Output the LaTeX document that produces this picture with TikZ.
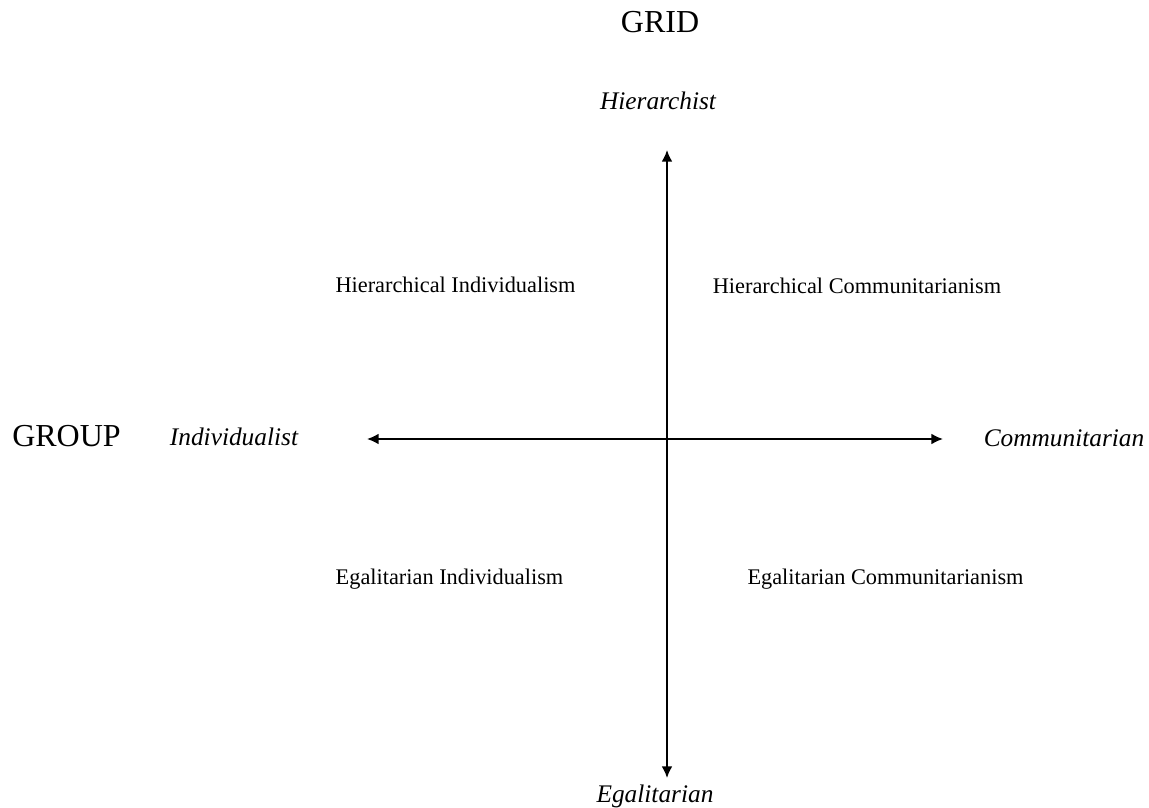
\documentclass[tikz,border=0pt]{standalone}
\usepackage{fontspec}
\setmainfont{Liberation Serif}
\usepackage{tikz}
\usetikzlibrary{arrows.meta}
\tikzset{>={Latex[length=7pt,width=6.5pt]},
    axis/.style={<->, line width=1.1pt},
    pole/.style={anchor=base, inner sep=0pt, font=\itshape\fontsize{15.2}{18}\selectfont},
    quadrant/.style={anchor=base, inner sep=0pt, font=\fontsize{13.4}{16}\selectfont},
    dimension/.style={anchor=base, inner sep=0pt, font=\fontsize{19.2}{23}\selectfont}}

\begin{document}
\begin{tikzpicture}[x=0.6pt, y=-0.6pt]
    \useasboundingbox (0,0) rectangle (1149,808);
    % axis ends
    \coordinate (top) at (667,150);
    \coordinate (bottom) at (667,778);
    \coordinate (left) at (367,439);
    \coordinate (right) at (943,439);
    \draw[axis] (top) -- (bottom);
    \draw[axis] (left) -- (right);
    % dimensions
    \node[dimension] (grid) at (660,33) {GRID};
    \node[dimension] (group) at (66.5,447) {GROUP};
    % poles
    \node[pole] (hier) at (658,110) {Hierarchist};
    \node[pole] (egal) at (655,802) {Egalitarian};
    \node[pole] (indiv) at (234,446) {Individualist};
    \node[pole] (comm) at (1064,447) {Communitarian};
    % quadrants
    \node[quadrant] (hi) at (455.5,293) {Hierarchical Individualism};
    \node[quadrant] (hc) at (857,294) {Hierarchical Communitarianism};
    \node[quadrant] (ei) at (449.5,584) {Egalitarian Individualism};
    \node[quadrant] (ec) at (885.5,584) {Egalitarian Communitarianism};
\end{tikzpicture}
\end{document}
